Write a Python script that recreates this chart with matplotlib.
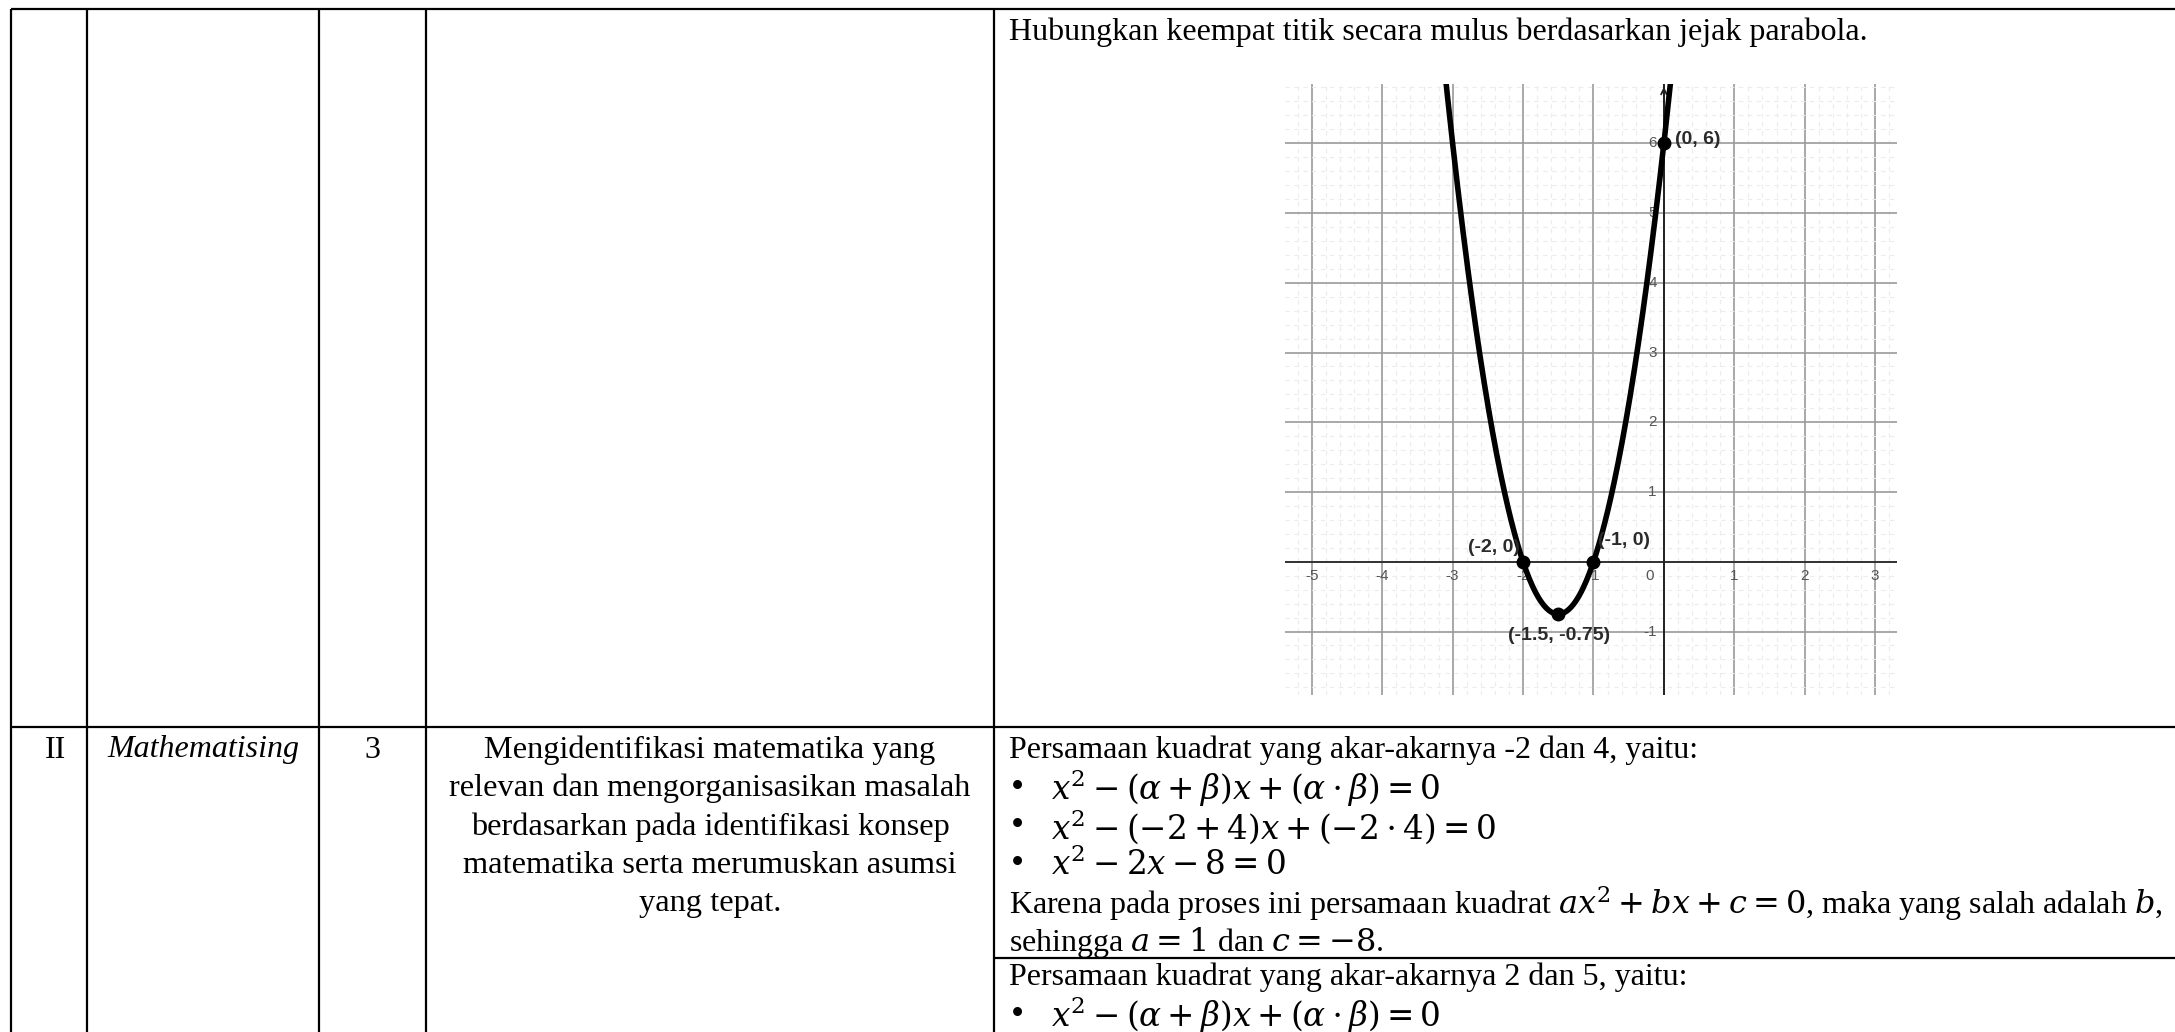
import numpy as np
import matplotlib.pyplot as plt
from matplotlib.ticker import MultipleLocator

plt.rcParams["font.family"] = ["Liberation Serif", "DejaVu Serif"]
plt.rcParams["mathtext.fontset"] = "dejavuserif"

W, H = 2175, 1032
DPI = 100

# parabola points shown in the graph
point_x = [0, -2, -1, -1.5]
point_y = [6, 0, 0, -0.75]
point_labels = ["(0, 6)", "(-2, 0)", "(-1, 0)", "(-1.5, -0.75)"]
x_tick_vals = [-5, -4, -3, -2, -1, 1, 2, 3]
y_tick_vals = [-1, 1, 2, 3, 4, 5, 6]

# table text
row1_answer = "Hubungkan keempat titik secara mulus berdasarkan jejak parabola."
row2_no = "II"
row2_step = "Mathematising"
row2_score = "3"
row2_indicator = [
    "Mengidentifikasi matematika yang",
    "relevan dan mengorganisasikan masalah",
    "berdasarkan pada identifikasi konsep",
    "matematika serta merumuskan asumsi",
    "yang tepat.",
]
row2_answer_a = [
    ("", "Persamaan kuadrat yang akar-akarnya -2 dan 4, yaitu:"),
    ("•", r"$x^2-(\alpha+\beta)x+(\alpha\cdot\beta)=0$"),
    ("•", r"$x^2-(-2+4)x+(-2\cdot4)=0$"),
    ("•", r"$x^2-2x-8=0$"),
    ("", r"Karena pada proses ini persamaan kuadrat $ax^2+bx+c=0$, maka yang salah adalah $b$,"),
    ("", r"sehingga $a=1$ dan $c=-8$."),
]
row2_answer_b = [
    ("", "Persamaan kuadrat yang akar-akarnya 2 dan 5, yaitu:"),
    ("•", r"$x^2-(\alpha+\beta)x+(\alpha\cdot\beta)=0$"),
]

# layout (pixels)
col_edges = [11, 87, 319, 426, 994]
top_y = 9
row_sep_y = 727
sub_sep_y = 958
line_h = 38.4
fs = 23

fig = plt.figure(figsize=(W / DPI, H / DPI), dpi=DPI)
tab = fig.add_axes([0, 0, 1, 1])
tab.set_xlim(0, W)
tab.set_ylim(H, 0)
tab.axis("off")

lw = 1.6
tab.hlines(top_y, col_edges[0], W, color="black", lw=lw)
tab.hlines(row_sep_y, col_edges[0], W, color="black", lw=lw)
tab.hlines(sub_sep_y, col_edges[-1], W, color="black", lw=lw)
tab.vlines(col_edges, top_y, H, color="black", lw=lw)

tab.text(1009, 32, row1_answer, fontsize=fs, va="center", ha="left")

y0 = 750
tab.text((col_edges[0] + col_edges[1]) / 2 + 6, y0, row2_no, fontsize=fs, ha="center", va="center")
tab.text((col_edges[1] + col_edges[2]) / 2, y0, row2_step, fontsize=fs, ha="center", va="center",
         style="italic")
tab.text((col_edges[2] + col_edges[3]) / 2, y0, row2_score, fontsize=fs, ha="center", va="center")
for i, line in enumerate(row2_indicator):
    tab.text((col_edges[3] + col_edges[4]) / 2, y0 + i * line_h, line, fontsize=fs + 0.3,
             ha="center", va="center")


def draw_lines(lines, start_y):
    for i, (bullet, line) in enumerate(lines):
        y = start_y + i * line_h
        if bullet:
            tab.text(1017, y, bullet, fontsize=fs + 4, ha="center", va="center")
            tab.text(1051, y, line, fontsize=fs + 0.5, ha="left", va="center")
        else:
            tab.text(1009, y, line, fontsize=fs, ha="left", va="center")


draw_lines(row2_answer_a, y0)
draw_lines(row2_answer_b, 977)

# embedded graph
gx0, gx1, gy0, gy1 = 1285, 1897, 84, 695
g = fig.add_axes([gx0 / W, 1 - gy1 / H, (gx1 - gx0) / W, (gy1 - gy0) / H])
g.set_xlim(-5.38, 3.31)
g.set_ylim(-1.91, 6.85)
for s in g.spines.values():
    s.set_visible(False)
g.xaxis.set_major_locator(MultipleLocator(1))
g.yaxis.set_major_locator(MultipleLocator(1))
g.xaxis.set_minor_locator(MultipleLocator(0.2))
g.yaxis.set_minor_locator(MultipleLocator(0.2))
g.tick_params(which="both", length=0, labelbottom=False, labelleft=False)
g.grid(which="minor", color="#ececec", lw=0.8, ls=(0, (4, 4)))
g.grid(which="major", color="#9a9a9a", lw=1.2)
g.set_axisbelow(True)
g.axhline(0, color="#333333", lw=1.4, zorder=2)
g.axvline(0, color="#222222", lw=1.4, zorder=2)
g.annotate("", xy=(0, 6.85), xytext=(0, 6.55),
           arrowprops=dict(arrowstyle="->", color="#222222", lw=1.3))

tick_kw = dict(fontsize=11, color="#555555", family=["Liberation Sans", "DejaVu Sans"])
for v in x_tick_vals:
    g.text(v, -0.21, str(v), ha="center", va="center", **tick_kw)
g.text(-0.2, -0.21, "0", ha="center", va="center", **tick_kw)
for v in y_tick_vals:
    g.text(-0.1, v, str(v), ha="right", va="center", **tick_kw)

# smooth curve through the four points (parabola fitted to them)
coef = np.polyfit(point_x, point_y, 2)
xs = np.linspace(-5.38, 3.31, 600)
g.plot(xs, np.polyval(coef, xs), color="black", lw=4.0, zorder=4)
g.plot(point_x, point_y, "o", color="black", ms=9, zorder=5)

lab_kw = dict(fontsize=14, weight="bold", color="#2a2a2a",
              family=["Liberation Sans", "DejaVu Sans"], zorder=6)
g.text(point_x[0] + 0.16, point_y[0] + 0.06, point_labels[0], ha="left", va="center", **lab_kw)
g.text(point_x[1] - 0.05, point_y[1] + 0.21, point_labels[1], ha="right", va="center", **lab_kw)
g.text(point_x[2] + 0.06, point_y[2] + 0.31, point_labels[2], ha="left", va="center", **lab_kw)
g.text(point_x[3] + 0.01, point_y[3] - 0.3, point_labels[3], ha="center", va="center", **lab_kw)

fig.savefig("out.png", dpi=DPI)
